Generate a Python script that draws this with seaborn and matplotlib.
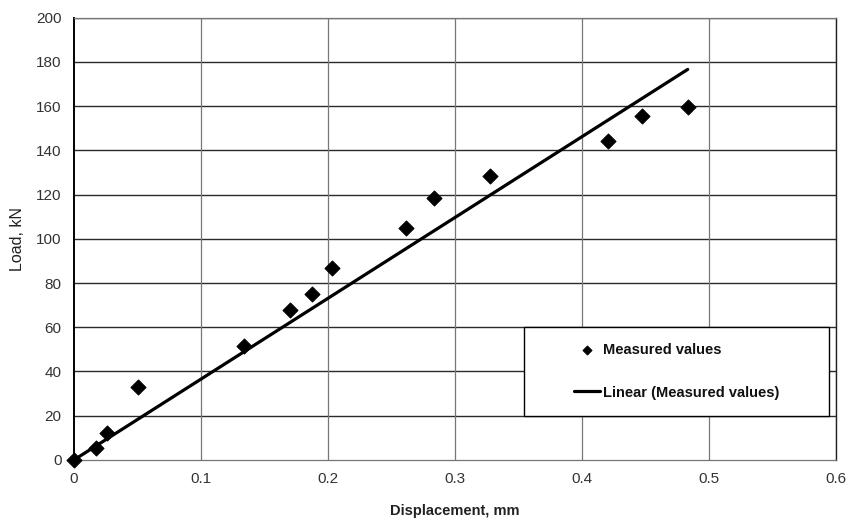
import numpy as np
import pandas as pd
import matplotlib
matplotlib.use("Agg")
import matplotlib.pyplot as plt
from matplotlib.patches import Rectangle
import seaborn as sns

# values
displacement = [0.0, 0.0173, 0.026, 0.050, 0.134, 0.170, 0.187, 0.203,
                0.261, 0.283, 0.327, 0.420, 0.447, 0.483]
load = [0.0, 5.4, 12.2, 33.0, 51.6, 68.0, 75.0, 87.0,
        105.0, 118.5, 128.5, 144.3, 155.6, 159.7]
x_ticks = [0, 0.1, 0.2, 0.3, 0.4, 0.5, 0.6]
x_labels = ["0", "0.1", "0.2", "0.3", "0.4", "0.5", "0.6"]
y_ticks = list(range(0, 201, 20))

df = pd.DataFrame({"Displacement": displacement, "Load": load})

# trendline through the origin, like Excel's linear fit with intercept = 0
x = df["Displacement"].to_numpy()
slope = np.linalg.lstsq(x[:, None], df["Load"].to_numpy(), rcond=None)[0][0]
fit = pd.DataFrame({"Displacement": [0.0, x.max()]})
fit["Load"] = slope * fit["Displacement"]

sns.set_style("white")
plt.rcParams["font.family"] = ["Liberation Sans", "DejaVu Sans"]

fig = plt.figure(figsize=(8.48, 5.22), dpi=100)
ax = fig.add_axes([0.0873, 0.119, 0.899, 0.847])

sns.lineplot(data=fit, x="Displacement", y="Load", color="black", lw=2.3,
             ax=ax, label="Linear (Measured values)", zorder=3)
sns.scatterplot(data=df, x="Displacement", y="Load", marker="D", color="black",
                s=60, edgecolor="black", ax=ax, label="Measured values",
                zorder=4, clip_on=False)

ax.set_xlim(0, 0.6)
ax.set_ylim(0, 200)
ax.set_xticks(x_ticks)
ax.set_xticklabels(x_labels)
ax.set_yticks(y_ticks)
ax.tick_params(axis="both", labelsize=11, colors="#333333", length=4,
               width=0.8, direction="out", pad=5)
ax.tick_params(axis="both", labelcolor="#333333")

for yv in y_ticks[1:]:
    ax.axhline(yv, color="#2a2a2a", lw=1.0, zorder=1)
for xv in x_ticks[1:]:
    ax.axvline(xv, color="#777777", lw=0.9, zorder=1)

for side in ["top", "bottom"]:
    ax.spines[side].set_color("#777777")
    ax.spines[side].set_linewidth(0.9)
ax.spines["left"].set_color("black")
ax.spines["left"].set_linewidth(1.4)
ax.spines["right"].set_color("#222222")
ax.spines["right"].set_linewidth(1.0)

ax.set_xlabel("Displacement, mm", fontsize=10.5, fontweight="bold", color="#222222",
              labelpad=13)
ax.set_ylabel("Load, kN", fontsize=11.5, color="#222222", labelpad=8)

# legend box
box = Rectangle((0.5906, 0.0995), 0.400, 0.2014, transform=ax.transAxes,
                facecolor="white", edgecolor="black", lw=1.0, zorder=5)
ax.add_patch(box)
handles, labels = ax.get_legend_handles_labels()
order = [labels.index("Measured values"), labels.index("Linear (Measured values)")]
leg = ax.legend([handles[i] for i in order], [labels[i] for i in order],
                loc="center", bbox_to_anchor=(0.5906, 0.0995, 0.400, 0.2014),
                frameon=False, prop={"size": 10.5, "weight": "bold"},
                labelspacing=1.95, handlelength=1.8, handletextpad=0.2,
                markerscale=0.6)
leg.set_zorder(6)
for t in leg.get_texts():
    t.set_color("#111111")

fig.savefig("out.png", dpi=100)
